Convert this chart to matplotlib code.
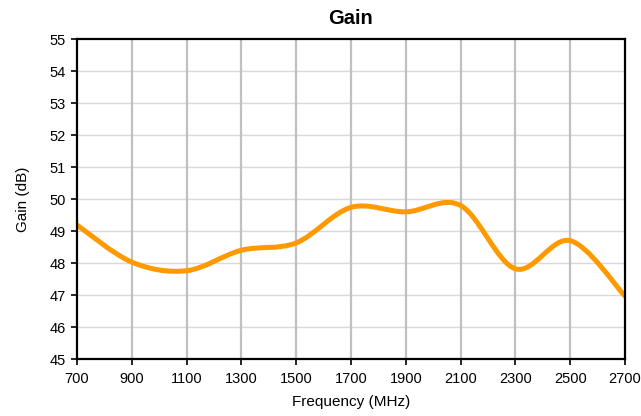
import matplotlib
matplotlib.use("Agg")
import matplotlib.pyplot as plt
from matplotlib.path import Path
from matplotlib.patches import PathPatch

freq = [700, 900, 1100, 1300, 1500, 1700, 1900, 2100, 2300, 2500, 2700]
gain = [49.19, 48.03, 47.76, 48.40, 48.63, 49.74, 49.60, 49.80, 47.82, 48.70, 46.97]
xticks = [700, 900, 1100, 1300, 1500, 1700, 1900, 2100, 2300, 2500, 2700]
yticks = list(range(45, 56))

plt.rcParams['font.family'] = ['Liberation Sans', 'DejaVu Sans']

fig = plt.figure(figsize=(6.41, 4.16), dpi=100)
ax = fig.add_axes([0.120, 0.137, 0.855, 0.769])
ax.set_xlim(700, 2700)
ax.set_ylim(45, 55)
ax.set_xticks(xticks)
ax.set_yticks(yticks)

for xv in xticks[1:-1]:
    ax.axvline(xv, color='#c0c0c0', lw=1.6, zorder=1)
for yv in yticks[1:-1]:
    ax.axhline(yv, color='#d9d9d9', lw=1.0, zorder=0.9)

# Smooth line (Excel-like cubic Bezier through the data points)
n = len(freq)
verts = [(freq[0], gain[0])]
codes = [Path.MOVETO]
k = 1.0 / 6.0
for i in range(n - 1):
    p0 = (freq[max(i - 1, 0)], gain[max(i - 1, 0)])
    p1 = (freq[i], gain[i])
    p2 = (freq[i + 1], gain[i + 1])
    p3 = (freq[min(i + 2, n - 1)], gain[min(i + 2, n - 1)])
    c1 = (p1[0] + (p2[0] - p0[0]) * k, p1[1] + (p2[1] - p0[1]) * k)
    c2 = (p2[0] - (p3[0] - p1[0]) * k, p2[1] - (p3[1] - p1[1]) * k)
    verts += [c1, c2, p2]
    codes += [Path.CURVE4] * 3
patch = PathPatch(Path(verts, codes), facecolor='none', edgecolor='#FF9900',
                  lw=3.6, capstyle='round', joinstyle='round', zorder=3)
ax.add_patch(patch)

for s in ax.spines.values():
    s.set_color('black')
    s.set_linewidth(1.6)
    s.set_zorder(4)

ax.tick_params(axis='both', direction='out', length=4, width=1.2, labelsize=10.5, colors='black')
ax.tick_params(axis='x', pad=5)
ax.tick_params(axis='y', pad=4)
ax.set_title('Gain', fontsize=14.5, fontweight='bold', pad=11)
ax.set_xlabel('Frequency (MHz)', fontsize=11, labelpad=7)
ax.set_ylabel('Gain (dB)', fontsize=11, labelpad=14)

fig.savefig('out.png', dpi=100)
